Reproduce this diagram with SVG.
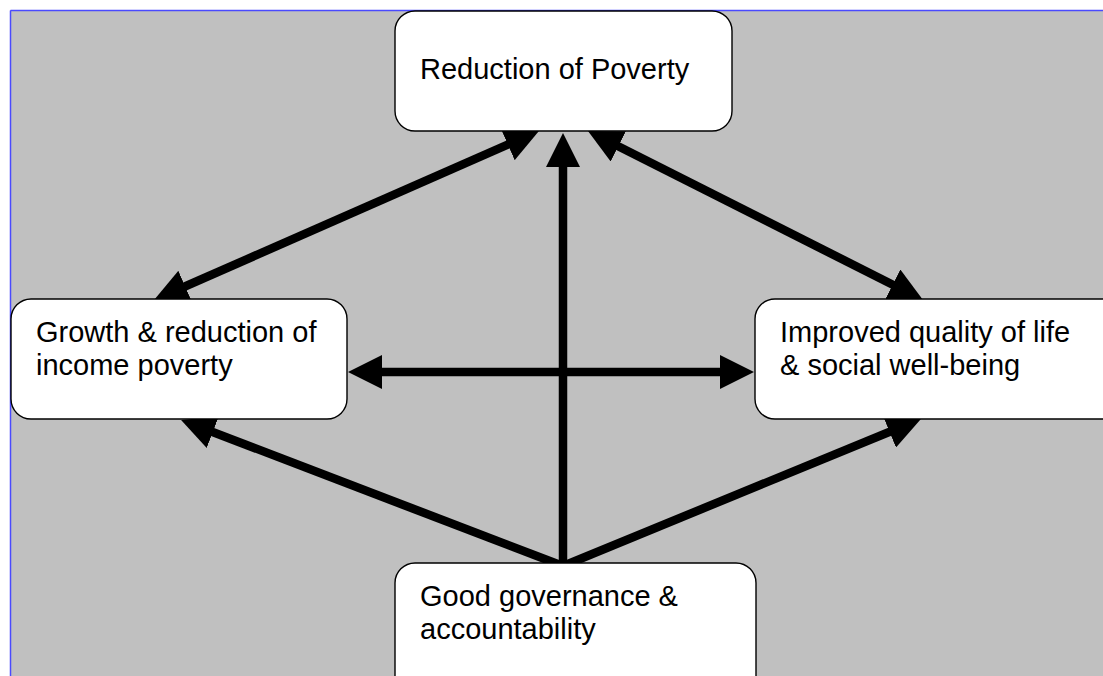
<svg xmlns="http://www.w3.org/2000/svg" width="1103" height="676" viewBox="0 0 1103 676">
  <style>
    .node rect { fill: #ffffff; stroke: #000000; stroke-width: 1.4; }
    .node text { font-family: "Liberation Sans", Arial, sans-serif; font-size: 29px; fill: #000000; }
    .conn path { fill: none; stroke: #000000; stroke-width: 8.5; stroke-linecap: butt; }
  </style>
  <defs>
    <marker id="head" markerUnits="userSpaceOnUse" markerWidth="34" markerHeight="34" viewBox="0 0 34 34" refX="24" refY="17" orient="auto-start-reverse">
      <path d="M0,0 L34,17 L0,34 Z" fill="#000000"/>
    </marker>
  </defs>
  <rect x="0" y="0" width="1103" height="676" fill="#ffffff"/>
  <rect x="10" y="10" width="1093" height="666" fill="#c0c0c0"/>
  <line x1="10.5" y1="10.5" x2="1103" y2="10.5" stroke="#4a4aff" stroke-width="1.5"/>
  <line x1="10.5" y1="10.5" x2="10.5" y2="676" stroke="#4a4aff" stroke-width="1.5"/>

  <g id="connectors" class="conn">
    <path d="M163.2,296 L529.8,135" marker-start="url(#head)" marker-end="url(#head)"/>
    <path d="M596.9,135.5 L914.1,295.5" marker-start="url(#head)" marker-end="url(#head)"/>
    <path d="M563,570 L563,143" marker-end="url(#head)"/>
    <path d="M358,372 L744,372" marker-start="url(#head)" marker-end="url(#head)"/>
    <path d="M563,566 L190.4,423.5" marker-end="url(#head)"/>
    <path d="M563,566 L911.7,422.7" marker-end="url(#head)"/>
  </g>

  <g id="node-poverty" class="node">
    <rect x="395" y="11" width="337" height="120" rx="20" ry="20"/>
    <text x="420" y="79">Reduction of Poverty</text>
  </g>
  <g id="node-growth" class="node">
    <rect x="11" y="299" width="336" height="120" rx="20" ry="20"/>
    <text x="36" y="342">Growth &amp; reduction of</text>
    <text x="36" y="375">income poverty</text>
  </g>
  <g id="node-quality" class="node">
    <rect x="755" y="299" width="370" height="120" rx="20" ry="20"/>
    <text x="780" y="342">Improved quality of life</text>
    <text x="780" y="375">&amp; social well-being</text>
  </g>
  <g id="node-governance" class="node">
    <rect x="395" y="563" width="361" height="140" rx="20" ry="20"/>
    <text x="420" y="606">Good governance &amp;</text>
    <text x="420" y="639">accountability</text>
  </g>
</svg>
